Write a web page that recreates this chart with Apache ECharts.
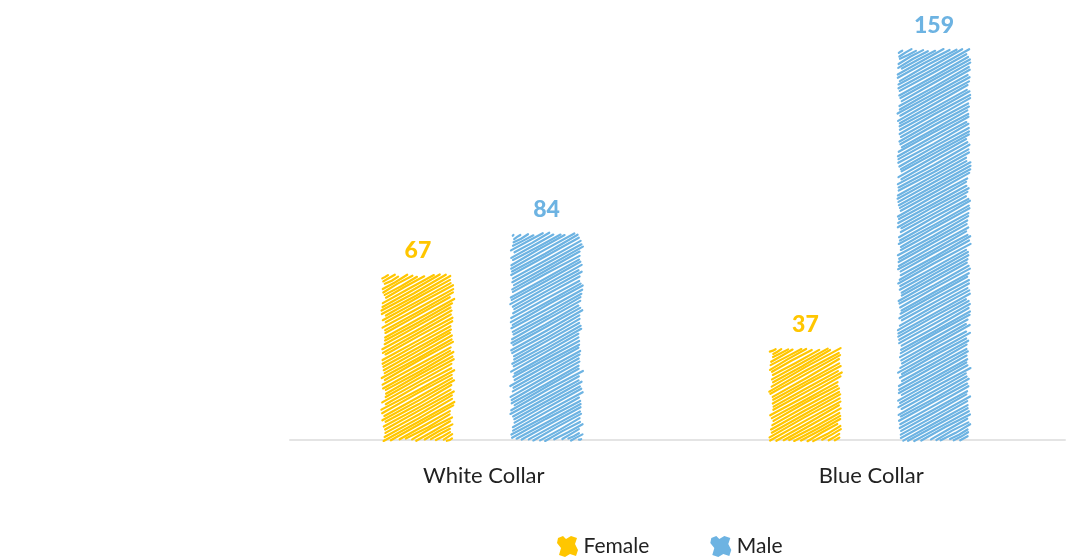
<!DOCTYPE html>
<html>
<head>
<meta charset="utf-8">
<title>Collar by gender</title>
<script src="https://cdn.jsdelivr.net/npm/echarts@6/dist/echarts.min.js"></script>
<style>
  html, body { margin: 0; padding: 0; background: #fff; }
  #chart { width: 1080px; height: 560px; }
</style>
</head>
<body>
<div id="chart"></div>
<script>
// Headcount by job type and gender
const categories = ['White Collar', 'Blue Collar'];
const femaleValues = [67, 37];
const maleValues = [84, 159];
const seriesNames = ['Female', 'Male'];

const FEMALE_COLOR = '#FFC600';
const MALE_COLOR = '#6DB3E2';
const FONT = 'Lato, "Noto Sans", sans-serif';

// Deterministic wobble so the sketch strokes look hand drawn but stay stable
function wobble(n) {
  const s = Math.sin(n * 12.9898 + 78.233) * 43758.5453;
  return (s - Math.floor(s)) * 2 - 1;
}

// Bar layout inside a category band (fractions of the band width)
const BAR_OFFSET = [-0.17, 0.162];
const BAR_WIDTH = 0.176;
const HATCH_ANGLE = 29 * Math.PI / 180;
const HATCH_GAP = 3.1;

function sketchBar(color) {
  return function (params, api) {
    const cat = api.value(0);
    const val = api.value(1);
    const base = api.coord([cat, 0]);
    const top = api.coord([cat, val]);
    const band = api.size([1, 0])[0];
    const w = band * BAR_WIDTH;
    const cx = base[0] + BAR_OFFSET[params.seriesIndex] * band;
    const x0 = cx - w / 2, x1 = cx + w / 2;
    const y0 = top[1], y1 = base[1];

    const sa = Math.sin(HATCH_ANGLE), ca = Math.cos(HATCH_ANGLE);
    // normal n = (sa, ca), direction d = (ca, -sa)
    const proj = [x0 * sa + y0 * ca, x1 * sa + y0 * ca, x0 * sa + y1 * ca, x1 * sa + y1 * ca];
    const cMin = Math.min.apply(null, proj), cMax = Math.max.apply(null, proj);
    const seed = params.seriesIndex * 7919 + params.dataIndex * 3571;
    const children = [];
    let i = 0;
    for (let c = cMin + HATCH_GAP * 0.5; c < cMax; c += HATCH_GAP, i++) {
      const px = c * sa, py = c * ca;
      const tA = (x0 - px) / ca, tB = (x1 - px) / ca;
      const tC = (py - y1) / sa, tD = (py - y0) / sa;
      const t0 = Math.max(Math.min(tA, tB), Math.min(tC, tD));
      const t1 = Math.min(Math.max(tA, tB), Math.max(tC, tD));
      if (t1 - t0 < 1) continue;
      const k = seed + i * 13;
      const s0 = t0 + wobble(k) * 2.6;
      const s1 = t1 + wobble(k + 1) * 2.6;
      const sm = (s0 + s1) / 2;
      const bow = wobble(k + 2) * 0.5;
      const j0 = wobble(k + 3) * 0.5, j1 = wobble(k + 4) * 0.5;
      children.push({
        type: 'polyline',
        shape: {
          points: [
            [px + s0 * ca + j0 * sa, py - s0 * sa + j0 * ca],
            [px + sm * ca + bow * sa, py - sm * sa + bow * ca],
            [px + s1 * ca + j1 * sa, py - s1 * sa + j1 * ca]
          ]
        },
        style: { stroke: color, lineWidth: 2.2, fill: null, lineCap: 'round' },
        silent: true
      });
    }
    children.push({
      type: 'text',
      style: {
        text: String(val),
        x: cx,
        y: y0 - 25,
        align: 'center',
        verticalAlign: 'middle',
        fill: color,
        font: '900 23px ' + FONT
      },
      silent: true
    });
    return { type: 'group', children: children };
  };
}

const legendIcon = 'path://M1,2 L6,0 L9,3 L14,0 L20,2 L18,8 L21,14 L19,20 L13,18 L8,21 L2,19 L4,12 L0,7 Z';

const chart = echarts.init(document.getElementById('chart'), null, { renderer: 'canvas' });
chart.setOption({
  animation: false,
  backgroundColor: '#ffffff',
  grid: { left: 290, right: 15, top: 48, bottom: 120 },
  legend: {
    data: seriesNames.map(n => ({ name: n, icon: legendIcon })),
    left: 552,
    top: 531,
    itemWidth: 22,
    itemHeight: 21,
    itemGap: 61,
    textStyle: { fontFamily: FONT, fontSize: 21, color: '#222' }
  },
  xAxis: {
    type: 'category',
    data: categories,
    axisLine: { lineStyle: { color: '#e4e4e4', width: 2 } },
    axisTick: { show: false },
    axisLabel: { margin: 25, fontFamily: FONT, fontSize: 22, color: '#222' }
  },
  yAxis: {
    type: 'value',
    min: 0,
    max: 160,
    show: false,
    splitLine: { show: false }
  },
  series: [
    {
      name: seriesNames[0],
      type: 'custom',
      clip: false,
      itemStyle: { color: FEMALE_COLOR },
      encode: { x: 0, y: 1 },
      data: femaleValues.map((v, i) => [i, v]),
      renderItem: sketchBar(FEMALE_COLOR)
    },
    {
      name: seriesNames[1],
      type: 'custom',
      clip: false,
      itemStyle: { color: MALE_COLOR },
      encode: { x: 0, y: 1 },
      data: maleValues.map((v, i) => [i, v]),
      renderItem: sketchBar(MALE_COLOR)
    }
  ]
});
</script>
</body>
</html>
